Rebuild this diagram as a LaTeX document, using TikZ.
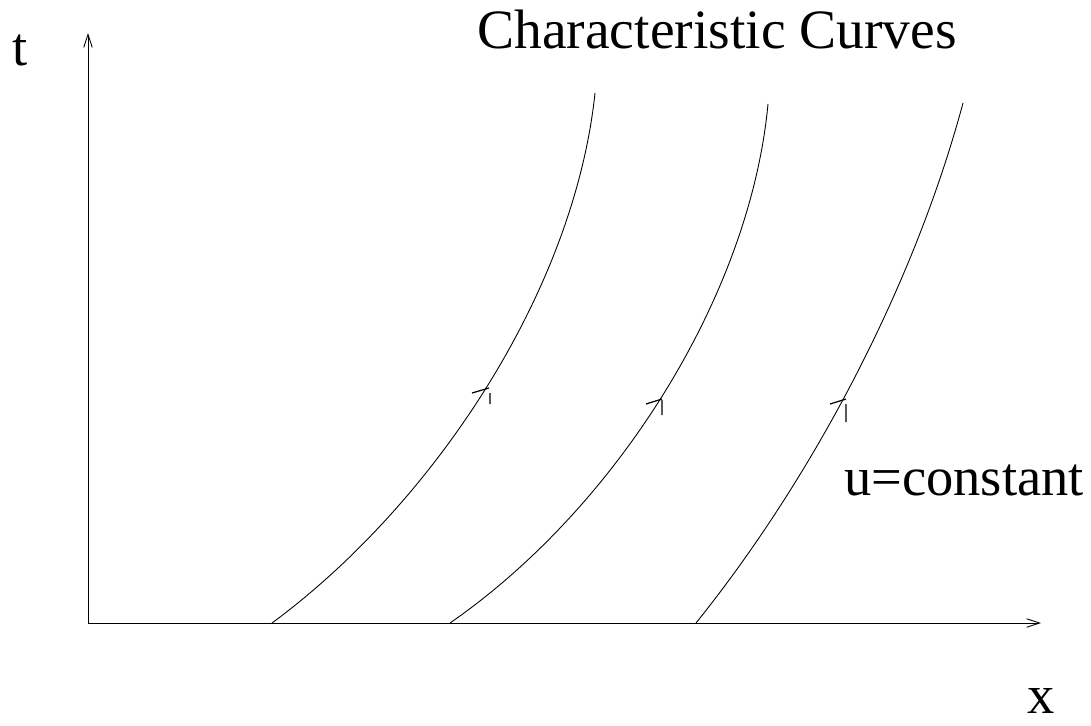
\documentclass[tikz,border=0pt]{standalone}
\usepackage{fontspec}
\setmainfont{Liberation Serif}
\usepackage{tikz}
\usetikzlibrary{
	arrows.meta, positioning, calc
}
\tikzset{
	axisline/.style={line width=0.5pt,-{Straight Barb[length=2.6mm,width=1.7mm,line width=0.5pt]}},
	charcurve/.style={line width=0.5pt},
	dirmark/.style={line width=0.7pt},
	biglabel/.style={font=\fontsize{31}{36}\selectfont,inner sep=0pt,anchor=base west}
}

\begin{document}
\begin{tikzpicture}[x=0.02cm,y=-0.02cm]
						\useasboundingbox (0,0) rectangle (1091,725);
						\coordinate (O) at (88,623);
						\coordinate (tend) at (88,33);
						\coordinate (xend) at (1041,623);
						\draw[axisline] (O)--(tend);
						\draw[axisline] (O)--(xend);
						% characteristics
						\draw[charcurve] (272,623) .. controls (432,505) and (574,293) .. (595,93);
						\draw[charcurve] (450,623) .. controls (616,508) and (750,296) .. (768,104);
						\draw[charcurve] (696,623) .. controls (814,476) and (914,285) .. (963,103);
						% direction marks
						\draw[dirmark] (472,393)--(489,388) (490,393)--(490,404);
						\draw[dirmark] (646,404)--(662,399) (662,400)--(662,415);
						\draw[dirmark] (830,404)--(846,399) (846,404)--(846,422);
						\node[biglabel] (tlab) at (12,65) {t};
						\node[biglabel] (xlab) at (1027,713) {x};
						\node[biglabel,font=\fontsize{31.6}{36}\selectfont] (title) at (477,48) {Characteristic Curves};
						\node[biglabel] (ulab) at (844,495) {u=constant};
					\end{tikzpicture}
\end{document}
